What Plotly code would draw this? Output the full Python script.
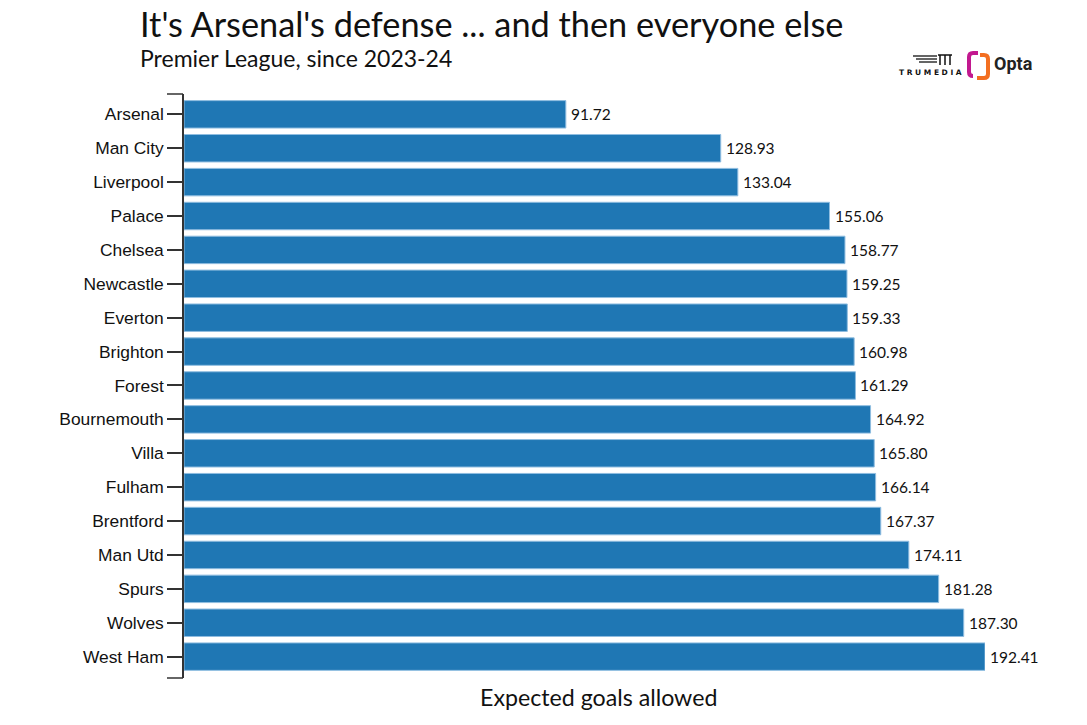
import plotly.graph_objects as go

# Expected goals allowed, Premier League since 2023-24
teams = [
    "Arsenal", "Man City", "Liverpool", "Palace", "Chelsea", "Newcastle",
    "Everton", "Brighton", "Forest", "Bournemouth", "Villa", "Fulham",
    "Brentford", "Man Utd", "Spurs", "Wolves", "West Ham",
]
xg_allowed = [
    91.72, 128.93, 133.04, 155.06, 158.77, 159.25, 159.33, 160.98, 161.29,
    164.92, 165.80, 166.14, 167.37, 174.11, 181.28, 187.30, 192.41,
]

W, H = 1087, 725
L, T = 184, 94
R, B = W - 985, H - 678
PW, PH = W - L - R, H - T - B


def px(x):
    return (x - L) / PW


def py(y):
    return (H - B - y) / PH


def main():
    fig = go.Figure()

    fig.add_trace(
        go.Bar(
            x=xg_allowed,
            y=teams,
            orientation="h",
            marker=dict(color="#1f77b4", line=dict(color="#8fbde0", width=1)),
            hoverinfo="skip",
        )
    )

    fig.update_xaxes(
        range=[0, max(xg_allowed)],
        visible=False,
    )
    # band scale with a little outer padding, first team on top
    fig.update_yaxes(
        range=[len(teams) - 1 + 0.63, -0.6],
        showline=True,
        linecolor="#333",
        linewidth=1.5,
        ticks="outside",
        ticklen=15,
        tickwidth=1.5,
        tickcolor="#333",
        tickfont=dict(family="Liberation Sans", size=17.4, color="#111"),
        showgrid=False,
        zeroline=False,
    )

    # outer ticks at top and bottom of the axis (d3 style domain path)
    for yy in [0, 1]:
        fig.add_shape(
            type="line",
            xref="paper", yref="paper",
            x0=px(167), x1=px(183), y0=yy, y1=yy,
            line=dict(color="#333", width=1.5),
        )

    annotations = []
    # value labels at the end of each bar
    for team, v in zip(teams, xg_allowed):
        annotations.append(
            dict(
                text=f"{v:.2f}", x=v, y=team, xref="x", yref="y",
                xanchor="left", yanchor="middle", xshift=3,
                font=dict(family="Lato", size=15.5, color="#111"),
                showarrow=False,
            )
        )

    texts = [
        dict(
            text="It's Arsenal's defense ... and then everyone else",
            x=px(138), y=py(23.5), xanchor="left", yanchor="middle",
            font=dict(family="Lato", size=34.3, color="#111"),
        ),
        dict(
            text="Premier League, since 2023-24",
            x=px(138), y=py(58.5), xanchor="left", yanchor="middle",
            font=dict(family="Lato", size=23, color="#111"),
        ),
        dict(
            text="Expected goals allowed",
            x=px(598), y=py(697), xanchor="center", yanchor="middle",
            font=dict(family="Lato", size=23.2, color="#111"),
        ),
        # logos (approximated with text)
        dict(
            text="<b>T R U M E D I A</b>",
            x=px(930), y=py(73), xanchor="center", yanchor="middle",
            font=dict(family="DejaVu Sans", size=7.5, color="#111"),
        ),
        dict(
            text="<b>Opta</b>",
            x=px(992), y=py(64), xanchor="left", yanchor="middle",
            font=dict(family="Roboto", size=18, color="#222"),
        ),
    ]
    for a in texts:
        a.update(xref="paper", yref="paper", showarrow=False)
    annotations += texts

    # TruMedia icon lines
    for i, (x0, x1) in enumerate([(913, 937), (916, 937), (919, 937)]):
        fig.add_shape(
            type="line", xref="paper", yref="paper",
            x0=px(x0), x1=px(x1), y0=py(56 + i * 3), y1=py(56 + i * 3),
            line=dict(color="#111", width=1.3),
        )
    for xx in [940, 945, 950]:
        fig.add_shape(
            type="line", xref="paper", yref="paper",
            x0=px(xx), x1=px(xx), y0=py(55), y1=py(65),
            line=dict(color="#111", width=1.5),
        )
    fig.add_shape(
        type="line", xref="paper", yref="paper",
        x0=px(938), x1=px(952), y0=py(55), y1=py(55),
        line=dict(color="#111", width=1.5),
    )
    # Opta bracket
    fig.add_shape(
        type="path", xref="paper", yref="paper",
        path=f"M {px(978)} {py(53)} L {px(973)} {py(53)} Q {px(969)} {py(53)} {px(969)} {py(57)} "
             f"L {px(969)} {py(72)} Q {px(969)} {py(76)} {px(973)} {py(76)}",
        line=dict(color="#c2188f", width=4),
    )
    fig.add_shape(
        type="path", xref="paper", yref="paper",
        path=f"M {px(980)} {py(55)} L {px(984)} {py(55)} Q {px(988)} {py(55)} {px(988)} {py(59)} "
             f"L {px(988)} {py(74)} Q {px(988)} {py(78)} {px(984)} {py(78)} L {px(977)} {py(78)}",
        line=dict(color="#f36f21", width=4),
    )

    fig.update_layout(
        width=W,
        height=H,
        margin=dict(l=L, r=R, t=T, b=B, pad=0),
        bargap=0.19,
        showlegend=False,
        plot_bgcolor="white",
        paper_bgcolor="white",
        annotations=annotations,
    )

    # drop the default page margin so the figure sits at the window corner
    fig.write_html(
        "out.html",
        config={"displayModeBar": False},
        post_script="document.body.style.margin='0';",
    )


if __name__ == "__main__":
    main()
